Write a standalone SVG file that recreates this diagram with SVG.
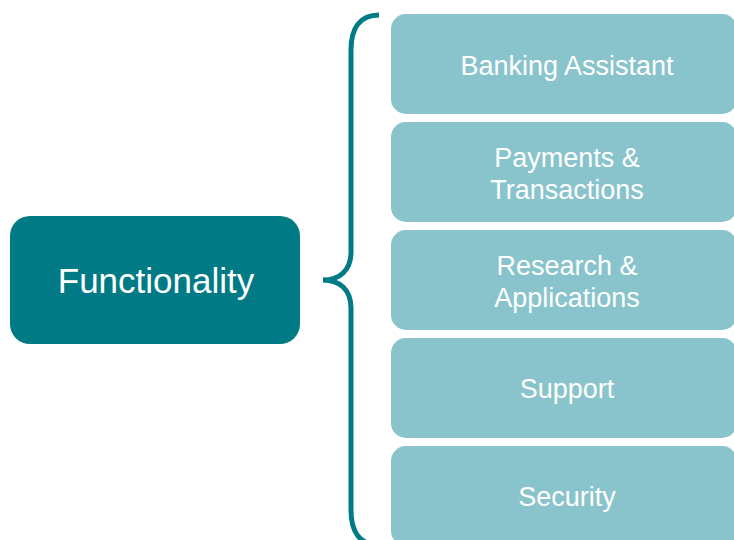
<svg xmlns="http://www.w3.org/2000/svg" width="734" height="540" viewBox="0 0 734 540">
<style>
.item rect{fill:#89C4CC}
.item text{fill:#fff;font-family:"Liberation Sans",Arial,sans-serif;font-size:27px;text-anchor:middle}
.root rect{fill:#007A84}
.root text{fill:#fff;font-family:"Liberation Sans",Arial,sans-serif;font-size:35px;text-anchor:middle}
.brace{fill:none;stroke:#007A84;stroke-width:5}
</style>
<rect width="734" height="540" fill="#fff"/>
<g id="functionality" class="root">
<rect x="10" y="216" width="290" height="128" rx="20"/>
<text x="156" y="293">Functionality</text>
</g>
<g id="connectors">
<path class="brace" d="M379,15 C360,15 351,28 351,50 L351,252 C351,270 340,280 323,280 C340,280 351,290 351,308 L351,510 C351,532 360,545 379,545"/>
</g>
<g id="banking" class="item">
<rect x="391" y="14" width="346" height="100" rx="15"/>
<text x="567" y="75">Banking Assistant</text>
</g>
<g id="payments" class="item">
<rect x="391" y="122" width="346" height="100" rx="15"/>
<text x="567" y="167">Payments &amp;</text>
<text x="567" y="199">Transactions</text>
</g>
<g id="research" class="item">
<rect x="391" y="230" width="346" height="100" rx="15"/>
<text x="567" y="275">Research &amp;</text>
<text x="567" y="307">Applications</text>
</g>
<g id="support" class="item">
<rect x="391" y="338" width="346" height="100" rx="15"/>
<text x="567" y="398">Support</text>
</g>
<g id="security" class="item">
<rect x="391" y="446" width="346" height="100" rx="15"/>
<text x="567" y="506">Security</text>
</g>
</svg>
